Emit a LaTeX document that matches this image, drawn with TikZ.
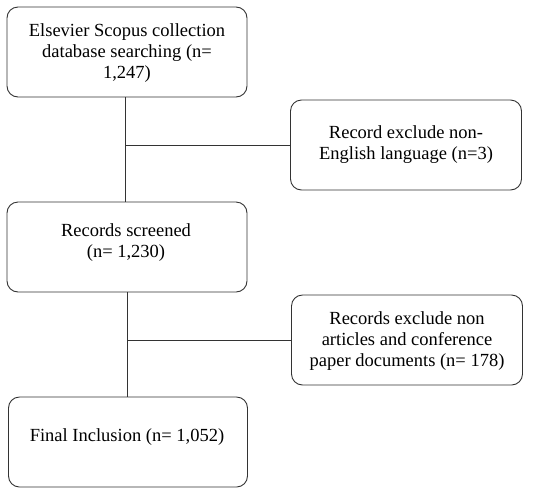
\documentclass[tikz,border=0pt]{standalone}
\usepackage{fontspec}
\setmainfont{Liberation Serif}
\begin{document}
\begin{tikzpicture}[x=1pt,y=-1pt,
  box/.style={draw=black!80, line width=0.9pt, rounded corners=11pt, minimum width=240pt, minimum height=90pt, inner sep=0pt},
  side/.style={box, minimum width=231pt},
  txt/.style={align=center, inner sep=0pt, font=\fontsize{18.5}{21}\selectfont},
  link/.style={draw=black!80, line width=0.9pt}]
\useasboundingbox (0,0) rectangle (553,488);
\node[box] (b1) at (127,52) {};
\node[txt] (t1) at (127,53) {Elsevier Scopus collection\\database searching (n=\\1,247)};
\node[side] (b2) at (406,145) {};
\node[txt] (t2) at (406,145) {Record exclude non-\\English language (n=3)};
\node[box] (b3) at (127,247) {};
\node[txt] (t3) at (126,243) {Records screened\\(n= 1,230)};
\node[side] (b4) at (407,340) {};
\node[txt] (t4) at (407,341) {Records exclude non\\articles and conference\\paper documents (n= 178)};
\node[box, minimum width=239pt] (b5) at (128,442) {};
\node[txt] (t5) at (127,437) {Final Inclusion (n= 1,052)};
\coordinate (j1) at (125,145);
\coordinate (j2) at (127,340);
\draw[link] (b1.south -| j1) -- (b3.north -| j1);
\draw[link] (j1) -- (j1 -| b2.west);
\draw[link] (b3.south -| j2) -- (b5.north -| j2);
\draw[link] (j2) -- (j2 -| b4.west);
\end{tikzpicture}
\end{document}
